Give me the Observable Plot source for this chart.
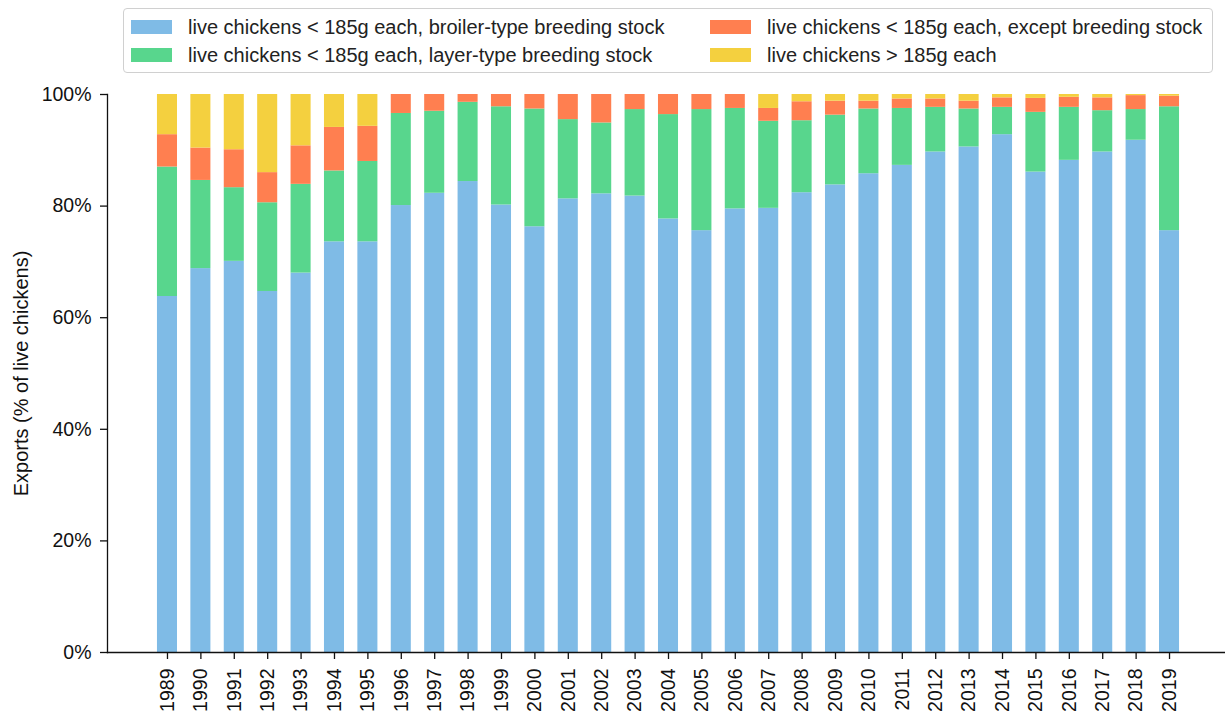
<!DOCTYPE html>
<html>
<head>
<meta charset="utf-8">
<script src="https://cdn.jsdelivr.net/npm/d3@7"></script>
<script src="https://cdn.jsdelivr.net/npm/@observablehq/plot@0.6"></script>
<style>
  html, body { margin: 0; padding: 0; background: #fff; }
  #wrap { position: relative; width: 1225px; height: 713px; font-family: "Liberation Sans", Arial, sans-serif; }
  #legend { position: absolute; left: 123px; top: 8px; width: 1090px; height: 65px; border: 1px solid #d0d0d0; border-radius: 4px; box-sizing: border-box; background: #fff; z-index: 2; }
  .item { position: absolute; display: flex; align-items: center; font-size: 20px; color: #222; white-space: nowrap; height: 22px; }
  .sw { width: 41px; height: 14px; margin-right: 16px; }
  svg { position: absolute; left: 0; top: 0; }
</style>
</head>
<body>
<div id="wrap">
  <div id="legend"></div>
</div>
<script>
const years = ["1989","1990","1991","1992","1993","1994","1995","1996","1997","1998","1999","2000","2001","2002","2003","2004","2005","2006","2007","2008","2009","2010","2011","2012","2013","2014","2015","2016","2017","2018","2019"];
const seriesNames = [
  "live chickens < 185g each, broiler-type breeding stock",
  "live chickens < 185g each, layer-type breeding stock",
  "live chickens < 185g each, except breeding stock",
  "live chickens > 185g each"
];
const seriesColors = ["#7fbbe6", "#58d68d", "#ff7f50", "#f4d03f"];
const broiler = [63.8,68.8,70.1,64.7,68.0,73.6,73.6,80.1,82.3,84.4,80.2,76.3,81.3,82.2,81.8,77.7,75.6,79.5,79.6,82.4,83.8,85.8,87.3,89.7,90.6,92.8,86.1,88.2,89.7,91.8,75.6];
const layer   = [23.2,15.8,13.2,15.9,15.9,12.7,14.4,16.5,14.7,14.2,17.6,21.1,14.2,12.7,15.5,18.7,21.7,18.0,15.6,12.9,12.5,11.6,10.2,8.0,6.8,4.9,10.7,9.5,7.4,5.5,22.2];
const exceptBreeding = [5.8,5.8,6.8,5.4,6.9,7.8,6.3,3.4,3.0,1.4,2.2,2.6,4.5,5.1,2.7,3.6,2.7,2.5,2.3,3.4,2.5,1.4,1.7,1.5,1.4,1.7,2.5,1.8,2.3,2.5,1.9];
const over185 = [7.2,9.6,9.9,14.0,9.2,5.9,5.7,0,0,0,0,0,0,0,0,0,0,0,2.5,1.3,1.2,1.2,0.8,0.8,1.2,0.6,0.7,0.5,0.6,0.2,0.3];
const yTicks = [0, 20, 40, 60, 80, 100];
const yLabel = "Exports (% of live chickens)";

const seriesValues = [broiler, layer, exceptBreeding, over185];
const rows = [];
seriesValues.forEach((vals, s) => {
  vals.forEach((v, i) => rows.push({year: years[i], series: seriesNames[s], value: v}));
});

const W = 1225, H = 713;
const chart = Plot.plot({
  width: W,
  height: H,
  marginTop: 94,
  marginBottom: 61,
  marginLeft: 107,
  marginRight: 0,
  style: {fontFamily: "Liberation Sans, Arial, sans-serif", fontSize: "19px", color: "#111", background: "transparent"},
  x: {type: "band", domain: years, range: [143.6, 1192.4], padding: 0.4, round: false, label: null},
  y: {domain: [0, 100], label: null},
  color: {domain: seriesNames, range: seriesColors},
  marks: [
    Plot.barY(rows, {x: "year", y: "value", fill: "series", order: null}),
    Plot.axisX({tickRotate: -90, tickSize: 7, tickPadding: 9, fontSize: 19.5, label: null, stroke: "#111", strokeWidth: 1.3}),
    Plot.axisY({ticks: yTicks, tickFormat: d => d + "%", tickSize: 7, tickPadding: 9, fontSize: 19.5, label: null, stroke: "#111", strokeWidth: 1.3}),
    Plot.frame({anchor: "left", stroke: "#111", strokeWidth: 1.3}),
    Plot.frame({anchor: "bottom", stroke: "#111", strokeWidth: 1.3}),
    Plot.text([yLabel], {frameAnchor: "left", textAnchor: "middle", rotate: -90, dx: -86, fontSize: 20, fill: "#111", text: d => d})
  ]
});
document.getElementById("wrap").appendChild(chart);

const legend = document.getElementById("legend");
const pos = [[7, 18], [7, 46], [586, 18], [586, 46]];
seriesNames.forEach((name, s) => {
  const it = document.createElement("div");
  it.className = "item";
  const p = pos[s];
  it.style.left = p[0] + "px";
  it.style.top = (p[1] - 11) + "px";
  const sw = document.createElement("div");
  sw.className = "sw";
  sw.style.background = seriesColors[s];
  const tx = document.createElement("span");
  tx.textContent = name;
  it.appendChild(sw);
  it.appendChild(tx);
  legend.appendChild(it);
});
</script>
</body>
</html>
